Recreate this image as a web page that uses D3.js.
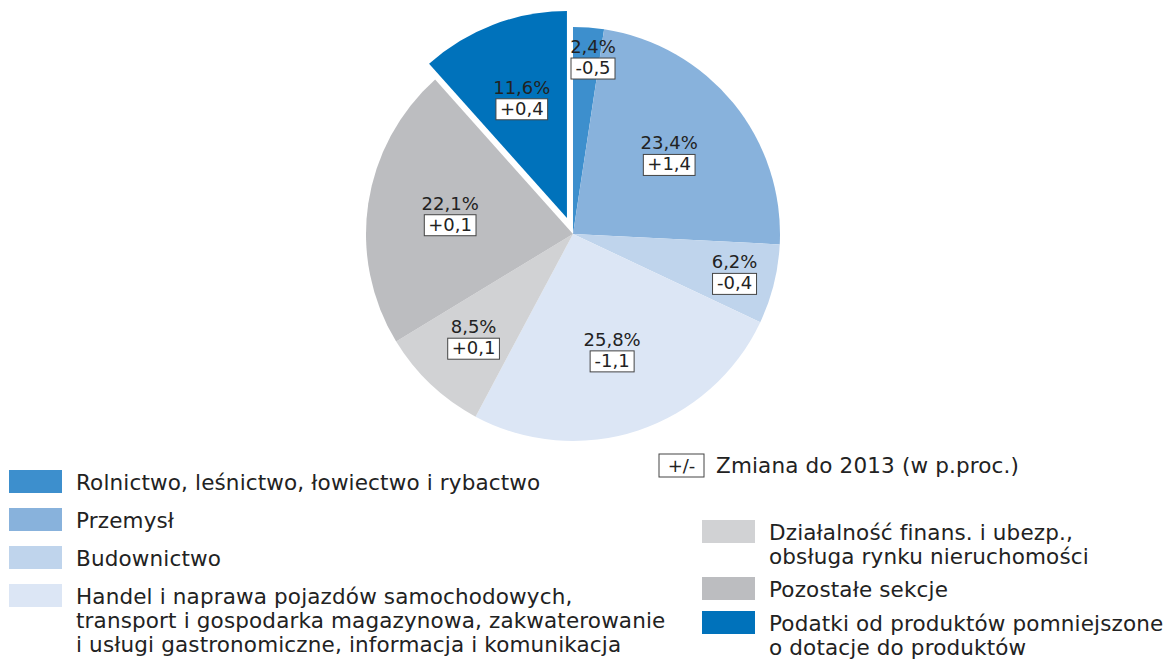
<!DOCTYPE html>
<html>
<head>
<meta charset="utf-8">
<script src="https://cdn.jsdelivr.net/npm/d3@7"></script>
<style>
  body { margin: 0; background: #fff; }
  svg { font-family: "DejaVu Sans", "Open Sans", sans-serif; fill: #222; }
</style>
</head>
<body>
<svg id="chart" width="1165" height="660"></svg>
<script>
// Struktura wartości dodanej brutto (%), zmiana do 2013 w p.proc.
const sectors = [
    "Rolnictwo, leśnictwo, łowiectwo i rybactwo",
    "Przemysł",
    "Budownictwo",
    "Handel i naprawa pojazdów samochodowych,|transport i gospodarka magazynowa, zakwaterowanie|i usługi gastronomiczne, informacja i komunikacja",
    "Działalność finans. i ubezp.,|obsługa rynku nieruchomości",
    "Pozostałe sekcje",
    "Podatki od produktów pomniejszone|o dotacje do produktów"
];
const shares = [2.4, 23.4, 6.2, 25.8, 8.5, 22.1, 11.6];
const changes = ["-0,5", "+1,4", "-0,4", "-1,1", "+0,1", "+0,1", "+0,4"];
const colors = ["#3d8fcd", "#88b2dc", "#bfd4ec", "#dce6f5", "#d1d2d4", "#bcbdc0", "#0072bb"];
const changeNote = "Zmiana do 2013 (w p.proc.)";

const data = sectors.map((s, i) => ({name: s, value: shares[i], change: changes[i], color: colors[i]}));

const svg = d3.select("#chart");
const cx = 573, cy = 234, radius = 207;
const explodeIdx = 6, explodeBy = 17;
const fmt = v => d3.format(".1f")(v).replace(".", ",") + "%";

const pie = d3.pie().sort(null).value(d => d.value);
const arc = d3.arc().innerRadius(0).outerRadius(radius);
const arcs = pie(data);

const g = svg.append("g").attr("transform", `translate(${cx},${cy})`);

// offset of a slice (only the tax slice is pulled out)
const offset = (d, i) => {
    if (i !== explodeIdx) return [0, 0];
    const a = (d.startAngle + d.endAngle) / 2;
    return [Math.sin(a) * explodeBy, -Math.cos(a) * explodeBy];
};

g.selectAll("path.slice")
    .data(arcs)
    .enter()
    .append("path")
    .attr("class", "slice")
    .attr("d", arc)
    .attr("fill", d => d.data.color)
    .attr("transform", (d, i) => `translate(${offset(d, i)})`);

// labels: small slices get their label pushed further out
const labelR = v => radius * (0.6 + 0.25 / (1 + Math.exp((v - 8) / 1.2)));

const labels = g.selectAll("g.label")
    .data(arcs)
    .enter()
    .append("g")
    .attr("class", "label");

labels.append("text")
    .attr("text-anchor", "middle")
    .attr("y", -6)
    .style("font-size", "18px")
    .text(d => fmt(d.data.value));

labels.each(function(d, i) {
    const lab = d3.select(this);
    const t = lab.append("text")
        .attr("text-anchor", "middle")
        .attr("y", 15)
        .style("font-size", "18px")
        .text(d.data.change);
    const w = Math.max(44, t.node().getComputedTextLength() + 8);
    lab.insert("rect", "text:last-child")
        .attr("x", -w / 2)
        .attr("y", -1)
        .attr("width", w)
        .attr("height", 21)
        .attr("fill", "#fff")
        .attr("stroke", "#444")
        .attr("stroke-width", 1);

    const a = (d.startAngle + d.endAngle) / 2;
    const r = labelR(d.data.value);
    const [ox, oy] = offset(d, i);
    let x = Math.sin(a) * r + ox;
    // very thin slice: hang the label off its left edge
    if (d.endAngle - d.startAngle < 0.2) x = Math.sin(d.startAngle) * r + w / 2 - 2;
    lab.attr("transform", `translate(${x},${-Math.cos(a) * r + oy})`);
});

// legend
const legendLeft = [0, 1, 2, 3];
const legendRight = [4, 5, 6];
const boxW = 53, boxH = 23, lineH = 24;

function drawLegend(items, x0, tops) {
    const lg = svg.append("g").attr("transform", `translate(${x0},0)`);
    items.forEach((idx, k) => {
        const d = data[idx];
        lg.append("rect")
            .attr("x", 0)
            .attr("y", tops[k])
            .attr("width", boxW)
            .attr("height", boxH)
            .attr("fill", d.color);
        const txt = lg.append("text")
            .attr("y", tops[k] + 20)
            .style("font-size", "21.5px")
            .style("letter-spacing", "0.15px");
        d.name.split("|").forEach((line, j) => {
            txt.append("tspan")
                .attr("x", boxW + 14)
                .attr("dy", j === 0 ? 0 : lineH)
                .text(line);
        });
    });
}

drawLegend(legendLeft, 9, [470, 508, 546, 584]);
drawLegend(legendRight, 702, [520, 577, 611]);

// note on the change box
const note = svg.append("g").attr("transform", "translate(659,454)");
note.append("rect")
    .attr("width", 45)
    .attr("height", 23)
    .attr("fill", "#fff")
    .attr("stroke", "#444");
note.append("text")
    .attr("x", 22.5)
    .attr("y", 18)
    .attr("text-anchor", "middle")
    .style("font-size", "18px")
    .text("+/-");
note.append("text")
    .attr("x", 57)
    .attr("y", 19)
    .style("font-size", "21.5px")
    .style("letter-spacing", "0.15px")
    .text(changeNote);
</script>
</body>
</html>
